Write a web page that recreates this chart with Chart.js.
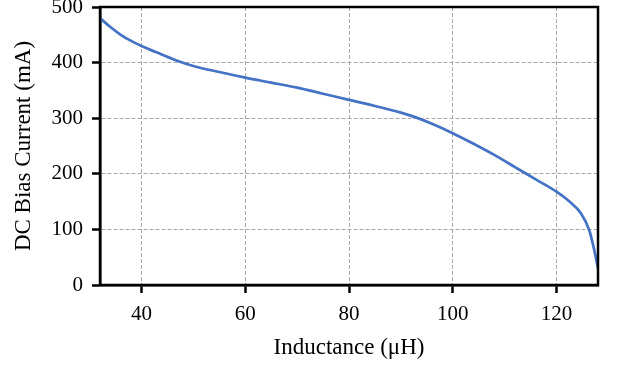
<!DOCTYPE html>
<html>
<head>
<meta charset="utf-8">
<script src="https://cdn.jsdelivr.net/npm/chart.js@4/dist/chart.umd.min.js"></script>
<style>
html,body{margin:0;padding:0;background:#fff;}
#wrap{width:620px;height:366px;}
</style>
</head>
<body>
<div id="wrap"><canvas id="c" width="620" height="366"></canvas></div>
<script>
const inductance = [32, 34, 36, 38, 40, 43, 47, 50, 55, 60, 65, 70, 75, 80, 85, 90, 93, 96, 100, 104, 108, 112, 116, 120, 122.4, 124.7, 126.3, 127.2, 128];
const biasCurrent = [480, 464, 450, 439, 430, 418, 403, 394, 383, 373, 364, 355, 344, 333, 322, 310, 301, 290, 273, 254, 234, 212, 190, 168, 151, 129, 99, 66, 30];
const xTicks = [40, 60, 80, 100, 120];
const yTicks = [0, 100, 200, 300, 400, 500];

const points = inductance.map((x, i) => ({x: x, y: biasCurrent[i]}));
const serif = "'Liberation Serif', 'DejaVu Serif', serif";

const boxPlugin = {
  id: 'box',
  afterDraw(chart) {
    const a = chart.chartArea, ctx = chart.ctx;
    ctx.save();
    ctx.strokeStyle = '#000';
    ctx.lineWidth = 2.5;
    ctx.strokeRect(a.left, a.top, a.right - a.left, a.bottom - a.top);
    ctx.restore();
  }
};

new Chart(document.getElementById('c'), {
  type: 'line',
  data: {
    datasets: [{
      data: points,
      borderColor: '#4472C4',
      borderWidth: 2.7,
      pointRadius: 0,
      cubicInterpolationMode: 'monotone',
      fill: false
    }]
  },
  options: {
    responsive: false,
    animation: false,
    layout: {padding: {top: 7, right: 22, left: 0, bottom: 0}},
    plugins: {legend: {display: false}, tooltip: {enabled: false}},
    scales: {
      x: {
        type: 'linear',
        min: 32, max: 128,
        afterBuildTicks(s) { s.ticks = xTicks.map(v => ({value: v})); },
        afterFit(s) { s.height = 81; s.paddingLeft = 0; s.paddingRight = 0; },
        grid: {color: '#a8a8a8', lineWidth: 1, tickColor: '#000', tickWidth: 2.5, tickLength: 8},
        border: {display: true, color: '#000', width: 2.5, dash: [4, 2]},
        ticks: {color: '#000', font: {family: serif, size: 21}, padding: 9, maxRotation: 0},
        title: {display: true, text: 'Inductance (μH)', color: '#000', font: {family: serif, size: 23}, padding: {top: 9}}
      },
      y: {
        min: 0, max: 500,
        afterBuildTicks(s) { s.ticks = yTicks.map(v => ({value: v})); },
        afterFit(s) { s.width = 100; s.paddingTop = 0; s.paddingBottom = 0; },
        grid: {color: '#a8a8a8', lineWidth: 1, tickColor: '#000', tickWidth: 2.5, tickLength: 8},
        border: {display: true, color: '#000', width: 2.5, dash: [4, 2]},
        ticks: {color: '#000', font: {family: serif, size: 21}, padding: 9},
        title: {display: true, text: 'DC Bias Current (mA)', color: '#000', font: {family: serif, size: 23}, padding: {top: 10, bottom: 4}}
      }
    }
  },
  plugins: [boxPlugin]
});
</script>
</body>
</html>
